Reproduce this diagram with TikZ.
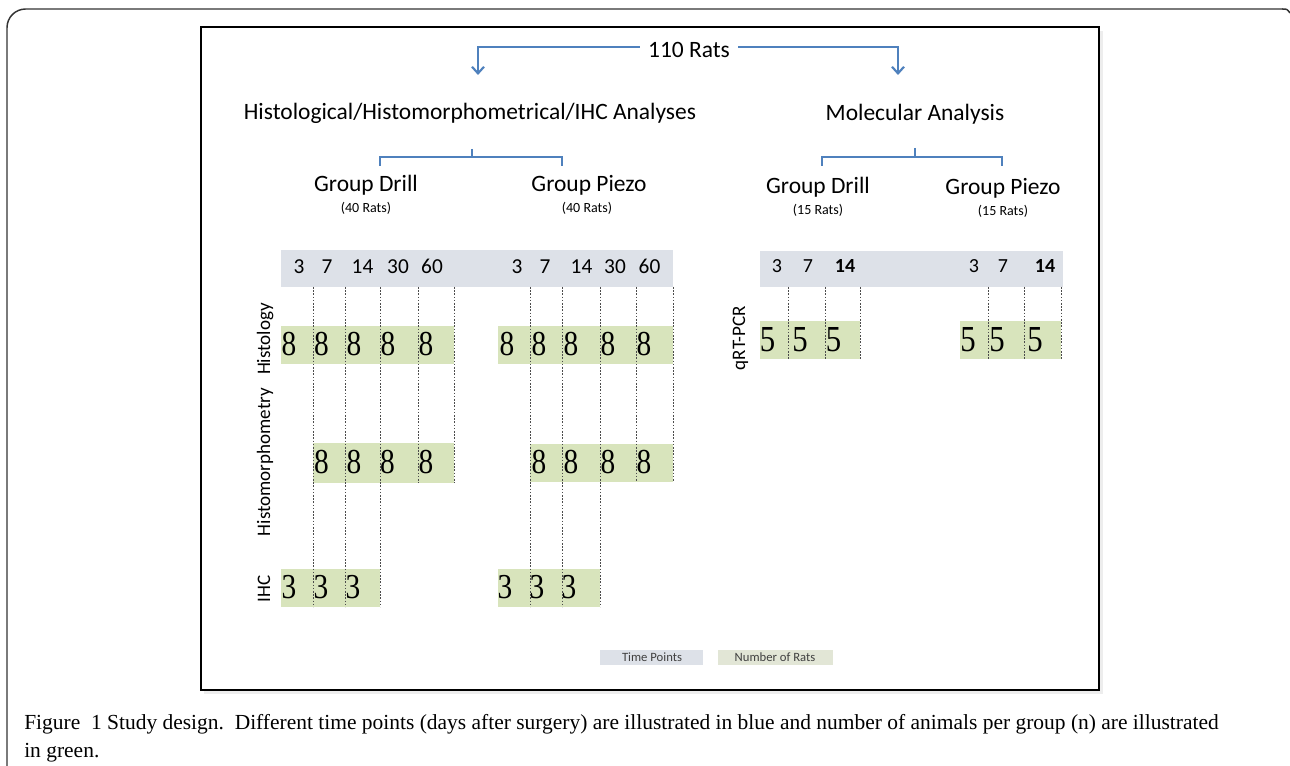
\documentclass[tikz,border=0pt]{standalone}
\usepackage{fontspec}
\setmainfont{Carlito}
\newfontfamily\seriffont{Liberation Serif}
\usetikzlibrary{arrows.meta}
\definecolor{bandgray}{RGB}{221,225,232}
\definecolor{cellgreen}{RGB}{216,228,188}
\definecolor{legendgreen}{RGB}{226,230,214}
\definecolor{bracketblue}{RGB}{79,129,189}
\newcommand{\tallnum}[1]{\scalebox{1.05}[1.25]{#1}}
\begin{document}
\begin{tikzpicture}[x=0.75pt,y=-0.75pt,
  head/.style={font=\fontsize{17.6}{20}\selectfont, inner sep=0pt, anchor=base},
  sub/.style={font=\fontsize{10.5}{12}\selectfont, inner sep=0pt, anchor=base},
  rowlabel/.style={font=\fontsize{14.3}{16}\selectfont, rotate=90, inner sep=0pt, anchor=base},
  tp/.style={font=\fontsize{16}{16}\selectfont, inner sep=0pt, anchor=base},
  tpr/.style={font=\fontsize{15}{16}\selectfont, inner sep=0pt, anchor=base},
  num/.style={font=\seriffont\fontsize{21}{20}\selectfont, inner sep=0pt, anchor=base},
  numb/.style={font=\seriffont\fontsize{22}{22}\selectfont, inner sep=0pt, anchor=base},
  bandbox/.style={fill=bandgray},
  cellbox/.style={fill=cellgreen},
  vline/.style={dash pattern=on 1.2pt off 1.2pt, line width=0.55pt, draw=black!70},
  bracket/.style={draw=bracketblue, line width=1.6pt},
  legendtext/.style={font=\fontsize{9.5}{11}\selectfont, text=black!75, inner sep=0pt},
  captext/.style={font=\seriffont\fontsize{16.1}{18}\selectfont, inner sep=0pt, anchor=base west}
]
\useasboundingbox (0,0) rectangle (1290,766);
% outer frame
\draw[line width=1.1pt, draw=black!80, rounded corners=14] (7,766) -- (7,9) -- (1283,9);
\draw[line width=1.1pt, draw=black!80] (1282,9) .. controls (1287,9) .. (1290,13);
% inner box with shadow
\fill[black!7] (204,31) rectangle (1103,694);
\fill[white] (201,27) rectangle (1099,690);
\draw[line width=1.3pt] (201,27) rectangle (1099,690);

% top level
\node[head] (rats) at (689,58) {110 Rats};
\node[head] (histo) at (470,120) {Histological/Histomorphometrical/IHC Analyses};
\node[head] (mol) at (915,121) {Molecular Analysis};
\coordinate (arrL) at (478,75);
\coordinate (arrR) at (898,75);
\draw[bracket, -{Straight Barb[length=5pt,width=9pt]}] ([xshift=-6pt,yshift=2.5pt]rats.west) -| (arrL);
\draw[bracket, -{Straight Barb[length=5pt,width=9pt]}] ([xshift=6pt,yshift=2.5pt]rats.east) -| (arrR);

% second level brackets
\coordinate (bLt) at (472,149);
\coordinate (bLm) at (472,157);
\coordinate (bLa) at (380,166);
\coordinate (bLb) at (562,166);
\draw[bracket] (bLt) -- (bLm);
\draw[bracket] (bLa) |- (bLm) -| (bLb);
\coordinate (bRt) at (915,148);
\coordinate (bRm) at (915,157);
\coordinate (bRa) at (822,166);
\coordinate (bRb) at (1002,166);
\draw[bracket] (bRt) -- (bRm);
\draw[bracket] (bRa) |- (bRm) -| (bRb);

\node[head] (gd1) at (366,192) {Group Drill};
\node[sub] (gd1n) at (366,213) {(40 Rats)};
\node[head] (gp1) at (589,192) {Group Piezo};
\node[sub] (gp1n) at (587,213) {(40 Rats)};
\node[head] (gd2) at (818,194) {Group Drill};
\node[sub] (gd2n) at (818,215) {(15 Rats)};
\node[head] (gp2) at (1003,195) {Group Piezo};
\node[sub] (gp2n) at (1003,216) {(15 Rats)};

% time point bands
\fill[bandbox] (281,250) rectangle (673,287);
\fill[bandbox] (760,251) rectangle (1063,287);
\foreach \x/\t [count=\i] in {299/3,327/7,362.5/14,398/30,432/60,517/3,545/7,581.5/14,615/30,649.5/60}
  \node[tp] (tpL\i) at (\x,274) {\t};
\node[tpr] (tpR1) at (777,273) {3};
\node[tpr] (tpR2) at (808,273) {7};
\node[tpr] (tpR3) at (845,273) {\textbf{14}};
\node[tpr] (tpR4) at (974,273) {3};
\node[tpr] (tpR5) at (1003,273) {7};
\node[tpr] (tpR6) at (1045,273) {\textbf{14}};

% green cells
\fill[cellbox] (281,326) rectangle (454,364);
\fill[cellbox] (498,326) rectangle (673,364);
\fill[cellbox] (313,443) rectangle (454,483);
\fill[cellbox] (530,444) rectangle (673,482);
\fill[cellbox] (281,569) rectangle (380,607);
\fill[cellbox] (498,569) rectangle (600,607);
\fill[cellbox] (760,321) rectangle (860,359);
\fill[cellbox] (960,321) rectangle (1061,359);

% dashed time lines
\foreach \x in {313,345,380} \draw[vline] (\x,287) -- (\x,607);
\foreach \x in {418,454} \draw[vline] (\x,287) -- (\x,483);
\foreach \x in {530,562,600} \draw[vline] (\x,287) -- (\x,607);
\foreach \x in {636,673} \draw[vline] (\x,287) -- (\x,482);
\foreach \x in {788,825,860,988.5,1024,1061} \draw[vline] (\x,287) -- (\x,359);

% numbers
\foreach \x [count=\i] in {289,321.5,354,388,426,507,539,571,608,644}
  \node[num] (h\i) at (\x,356) {\tallnum{8}};
\foreach \x [count=\i] in {321.5,354,387.5,426,539,571,608,644}
  \node[num] (m\i) at (\x,474) {\tallnum{8}};
\foreach \x [count=\i] in {289,321,353,505,537,569}
  \node[num] (ihc\i) at (\x,599) {\tallnum{3}};
\foreach \x [count=\i] in {767.5,800,833.5,968,997,1035}
  \node[numb] (q\i) at (\x,352) {\tallnum{5}};

% row labels
\node[rowlabel] (lhist) at (270,339) {Histology};
\node[rowlabel] (lhm) at (270,462) {Histomorphometry};
\node[rowlabel] (lihc) at (270,589) {IHC};
\node[rowlabel] (lq) at (745,338) {qRT-PCR};

% legend
\fill[bandgray] (600,650) rectangle (703,665);
\fill[legendgreen] (718,650) rectangle (833,665);
\node[legendtext] (legtp) at (652,657.5) {Time Points};
\node[legendtext] (legnr) at (775,657.5) {Number of Rats};

% caption
\node[captext] (cap1) at (24,729) {Figure\ \ 1 Study design.\ \ Different time points (days after surgery) are illustrated in blue and\ number\ of animals per group (n) are illustrated};
\node[captext] (cap2) at (24,757) {in green.};
\end{tikzpicture}
\end{document}
